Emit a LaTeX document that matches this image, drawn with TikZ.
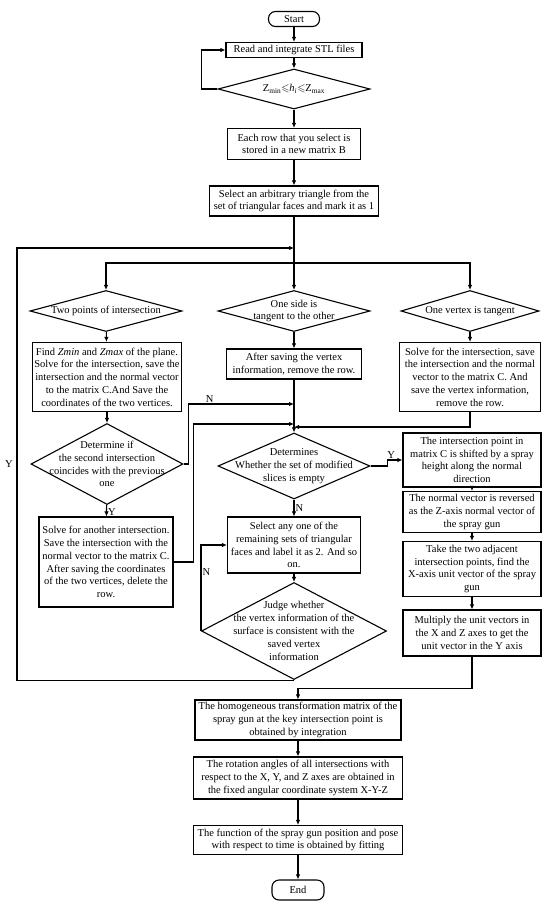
\documentclass[tikz,border=0pt]{standalone}
\usepackage{amssymb}
\usepackage{fontspec}
\setmainfont{Liberation Serif}
\usepackage{tikz}
\usetikzlibrary{shapes.geometric,arrows.meta}
\newcommand{\flowfont}{\fontsize{10.5}{12.8}\selectfont}
\tikzstyle{proc}=[draw,rectangle,line width=1.1pt,inner sep=1pt,align=center,font=\flowfont]
\tikzstyle{term}=[proc,rounded corners=7pt]
\tikzstyle{dia}=[draw,diamond,line width=1.1pt,inner sep=0pt]
\tikzstyle{dtxt}=[align=center,inner sep=0pt,font=\flowfont]
\tikzstyle{yn}=[inner sep=1pt,font=\flowfont]
\tikzstyle{arr}=[-{Latex[length=5pt,width=4.5pt]},line width=1.1pt]

\begin{document}
\begin{tikzpicture}[x=1pt,y=-1pt]
        \useasboundingbox (0,0) rectangle (550,907);
        \node[term,minimum width=51pt,minimum height=15pt] (start) at (294,19) {Start};
        \node[proc,minimum width=136pt,minimum height=15pt] (read) at (294,50) {Read and integrate STL files};
        \node[dia,minimum width=152pt,minimum height=40pt,
            label={[dtxt]center:Z\textsubscript{min}$\leqslant$\textit{h}\textsubscript{\textit{i}}$\leqslant$Z\textsubscript{max}}] (zrange) at (294,89) {};
        \node[proc,minimum width=133pt,minimum height=31pt] (rowsel) at (294,144) {Each row that you select is\\stored in a new matrix B};
        \node[proc,minimum width=169pt,minimum height=30pt] (pick1) at (294,201) {Select an arbitrary triangle from the\\set of triangular faces and mark it as 1};
        \coordinate (join) at (294,248);
        \coordinate (fork) at (294,263);
        \node[dia,minimum width=152pt,minimum height=41pt,
            label={[dtxt]center:Two points of intersection}] (twopts) at (106,311) {};
        \node[dia,minimum width=152pt,minimum height=41pt,
            label={[dtxt]center:One side is\\tangent to the other}] (oneside) at (294,311) {};
        \node[dia,minimum width=138pt,minimum height=41pt,
            label={[dtxt]center:One vertex is tangent}] (onevert) at (470,311) {};
        \node[proc,minimum width=149pt,minimum height=69pt] (findz) at (107,377) {Find \textit{Zmin} and \textit{Zmax} of the plane.\\Solve for the intersection, save the\\intersection and the normal vector\\to the matrix C.And Save the\\coordinates of the two vertices.};
        \node[proc,minimum width=135pt,minimum height=30pt] (savevert) at (294,364) {After saving the vertex\\information, remove the row.};
        \node[proc,minimum width=141pt,minimum height=69pt] (solvev) at (470,377) {Solve for the intersection, save\\the intersection and the normal\\vector to the matrix C. And\\save the vertex information,\\remove the row.};
        \node[dia,minimum width=152pt,minimum height=81pt,
            label={[dtxt]center:Determine if\\the second intersection\\coincides with the previous\\one}] (coincide) at (107,464) {};
        \node[proc,minimum width=134pt,minimum height=90pt] (solve2) at (106,562) {Solve for another intersection.\\Save the intersection with the\\normal vector to the matrix C.\\After saving the coordinates\\of the two vertices, delete the\\row.};
        \coordinate (nin) at (294,404);
        \coordinate (lin) at (294,424);
        \coordinate (rin) at (294,427);
        \node[dia,minimum width=152pt,minimum height=66pt,
            label={[dtxt]center:Determines\\Whether the set of modified\\slices is empty}] (empty) at (294,466) {};
        \node[proc,minimum width=133pt,minimum height=56pt] (pick2) at (294,545) {Select any one of the\\remaining sets of triangular\\faces and label it as 2. And so\\on.};
        \node[dia,minimum width=185pt,minimum height=97pt,
            label={[dtxt]center:Judge whether\\the vertex information of the\\surface is consistent with the\\saved vertex\\information}] (judge) at (294,631) {};
        \node[proc,minimum width=138pt,minimum height=54pt] (shift) at (472,460) {The intersection point in\\matrix C is shifted by a spray\\height along the normal\\direction};
        \node[proc,minimum width=138pt,minimum height=41pt] (reverse) at (472,512) {The normal vector is reversed\\as the Z-axis normal vector of\\the spray gun};
        \node[proc,minimum width=138pt,minimum height=55pt] (xaxis) at (472,569) {Take the two adjacent\\intersection points, find the\\X-axis unit vector of the spray\\gun};
        \node[proc,minimum width=138pt,minimum height=46pt] (yaxis) at (472,633) {Multiply the unit vectors in\\the X and Z axes to get the\\unit vector in the Y axis};
        \node[proc,minimum width=206pt,minimum height=40pt] (homog) at (298,720) {The homogeneous transformation matrix of the\\spray gun at the key intersection point is\\obtained by integration};
        \node[proc,minimum width=209pt,minimum height=42pt] (rotang) at (298,778) {The rotation angles of all intersections with\\respect to the X, Y, and Z axes are obtained in\\the fixed angular coordinate system X-Y-Z};
        \node[proc,minimum width=209pt,minimum height=29pt] (fitting) at (298,840) {The function of the spray gun position and pose\\with respect to time is obtained by fitting};
        \node[term,minimum width=52pt,minimum height=20pt] (end) at (298,890) {End};
        \node[yn] (yloop) at (9,464) {Y};

        \draw[arr] (start) -- (read);
        \draw[arr] (read) -- (zrange);
        \draw[arr] (zrange.west) -- ++(-16,0) |- (read.west);
        \draw[arr] (zrange) -- (rowsel);
        \draw[arr] (rowsel) -- (pick1);
        \draw[arr] (pick1) -- (oneside.north);
        \draw[arr] (judge.south) -| (17,248) -- (join);
        \draw[arr] (fork) -| (twopts.north);
        \draw[arr] (fork) -| (onevert.north);
        \draw[arr] (twopts) -- (findz);
        \draw[arr] (oneside) -- (savevert);
        \draw[arr] (onevert) -- (solvev);
        \draw[arr] (findz) -- (coincide);
        \draw[arr] (coincide) -- node[yn,right,pos=0.6] (ycoin) {Y} (solve2);
        \draw[arr] (coincide.east) -- ++(5,0) |- node[yn,above,pos=0.6] (ncoin) {N} (nin);
        \draw[arr] (solve2.east) -- ++(20,0) |- (lin);
        \draw[arr] (solvev.south) |- (rin);
        \draw[arr] (savevert) -- (empty);
        \draw[arr] (empty.east) -- ++(17,0) |- node[yn,above,pos=0.62] (yempty) {Y} (shift.west);
        \draw[arr] (empty) -- node[yn,right] (nempty) {N} (pick2);
        \draw[arr] (pick2) -- (judge);
        \draw[arr] (judge.west) |- node[yn,right,pos=0.34] (njudge) {N} (pick2.west);
        \draw[arr] (shift) -- (reverse);
        \draw[arr] (reverse) -- (xaxis);
        \draw[arr] (xaxis) -- (yaxis);
        \draw[arr] (yaxis.south) -- ++(0,32) -| (homog.north);
        \draw[arr] (homog) -- (rotang);
        \draw[arr] (rotang) -- (fitting);
        \draw[arr] (fitting) -- (end);
\end{tikzpicture}
\end{document}
